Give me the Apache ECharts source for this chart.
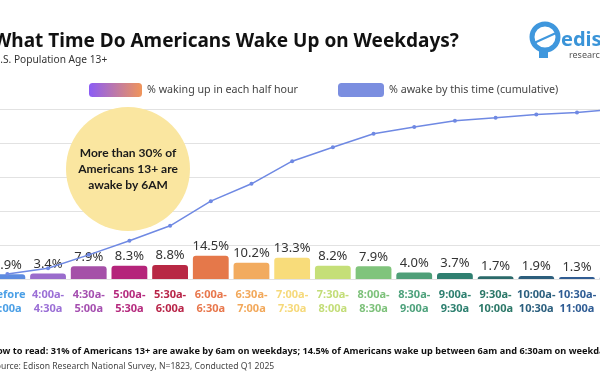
<!DOCTYPE html>
<html><head><meta charset="utf-8">
<script src="https://cdn.jsdelivr.net/npm/echarts@6/dist/echarts.min.js"></script>
<style>html,body{margin:0;padding:0;background:#fff}#c{width:600px;height:372px}</style>
</head><body><div id="c"></div>
<script>
const categories = ['Before\n4:00a','4:00a-\n4:30a','4:30a-\n5:00a','5:00a-\n5:30a','5:30a-\n6:00a','6:00a-\n6:30a','6:30a-\n7:00a','7:00a-\n7:30a','7:30a-\n8:00a','8:00a-\n8:30a','8:30a-\n9:00a','9:00a-\n9:30a','9:30a-\n10:00a','10:00a-\n10:30a','10:30a-\n11:00a','After\n11:00a'];
const halfHourPct = [2.9,3.4,7.9,8.3,8.8,14.5,10.2,13.3,8.2,7.9,4.0,3.7,1.7,1.9,1.3,2.0];
const cumulativePct = [2.9,6.3,14.2,22.5,31.3,45.8,56.0,69.3,77.5,85.4,89.4,93.1,94.8,96.7,98.0,100];
const barColors = ['#5d8be0','#9a6ccc','#a550a8','#b5247a','#b82844','#e5784a','#f2ab5f','#f8dc7a','#c5df78','#80c47c','#4f9f78','#2f7f70','#2b6a6a','#2c5e7c','#305c92','#33589a'];
const labelColors = ['#4a9fe6','#9b6fd6','#a54fb0','#b52a7e','#b82448','#e8774c','#f2a85a','#f6d97a','#c3dd78','#7dc17a','#4ea27c','#2e8070','#2c7868','#2b5f7e','#2f5c94','#2f5c94'];
const yTicks = [0,20,40,60,80,100];

const chart = echarts.init(document.getElementById('c'), null, {renderer:'canvas'});
const F = 'Noto Sans';
chart.setOption({
  backgroundColor:'#fff',
  animation:false,
  title:[
    {text:'What Time Do Americans Wake Up on Weekdays?', left:-12, top:27, textStyle:{fontFamily:F, fontWeight:'bold', fontSize:19, color:'#111'}},
    {text:'U.S. Population Age 13+', left:-12, top:50, textStyle:{fontFamily:F, fontWeight:'normal', fontSize:10.2, color:'#333'}},
    {text:'How to read: 31% of Americans 13+ are awake by 6am on weekdays; 14.5% of Americans wake up between 6am and 6:30am on weekdays.', left:-15, top:342, textStyle:{fontFamily:F, fontWeight:'bold', fontSize:9.2, color:'#111'}},
    {text:'Source: Edison Research National Survey, N=1823, Conducted Q1 2025', left:-14, top:357, textStyle:{fontFamily:F, fontWeight:'normal', fontSize:8.6, color:'#444'}}
  ],
  legend:[
    {left:84, top:78, itemWidth:53, itemHeight:14, icon:'roundRect',
     textStyle:{fontFamily:F, fontSize:10.7, color:'#444'},
     data:[{name:'% waking up in each half hour', itemStyle:{color:{type:'linear',x:0,y:0,x2:1,y2:0,colorStops:[{offset:0,color:'#8b5cf6'},{offset:1,color:'#f0955a'}]}}}]},
    {left:333, top:78, itemWidth:46, itemHeight:14, icon:'roundRect',
     textStyle:{fontFamily:F, fontSize:10.7, color:'#444'},
     data:[{name:'% awake by this time (cumulative)', itemStyle:{color:'#7b8ee0'}}]}
  ],
  grid:{left:-13, width:651, top:109, height:170, containLabel:false, outerBoundsMode:'none'},
  xAxis:{
    type:'category', data:categories.map((c,i)=>({value:c, textStyle:{color:labelColors[i]}})),
    axisLine:{show:false}, axisTick:{show:false},
    axisLabel:{interval:0, fontFamily:F, fontWeight:'bold', fontSize:11, lineHeight:14, margin:9, hideOverlap:false}
  },
  yAxis:[
    {type:'value', min:0, max:100, interval:20, axisLabel:{show:false}, axisLine:{show:false}, axisTick:{show:false}, splitLine:{lineStyle:{color:'#e2e2e2', width:1}}},
    {type:'value', min:0, max:106, axisLabel:{show:false}, axisLine:{show:false}, axisTick:{show:false}, splitLine:{show:false}}
  ],
  series:[
    {name:'% waking up in each half hour', type:'bar', yAxisIndex:1, barCategoryGap:'12%',
     data:halfHourPct.map((v,i)=>({value:v, itemStyle:{color:barColors[i]}})),
     itemStyle:{borderRadius:[3,3,0,0]},
     label:{show:true, position:'top', distance:3, fontFamily:F, fontSize:13, color:'#333', formatter:p=>p.value.toFixed(1)+'%'}},
    {name:'% awake by this time (cumulative)', type:'line', yAxisIndex:0, data:cumulativePct,
     color:'#6f89e3', lineStyle:{width:1.5, color:'#6f89e3'}, symbol:'circle', symbolSize:4, itemStyle:{color:'#6f89e3'}, z:3}
  ],
  graphic:[
    {type:'circle', shape:{cx:128, cy:169, r:62}, style:{fill:'#fae6a0'}, z:5},
    {type:'text', x:128, y:169, z:6, style:{text:'More than 30% of\nAmericans 13+ are\nawake by 6AM', fill:'#1a1a1a', font:'bold 12px "Lato"', lineHeight:16, align:'center', verticalAlign:'middle'}},
    {type:'circle', shape:{cx:545, cy:37, r:13}, style:{fill:'none', stroke:'#3f97dd', lineWidth:5}, z:5},
    {type:'line', shape:{x1:534, y1:43, x2:556, y2:33}, style:{stroke:'#3f97dd', lineWidth:2}, z:5},
    {type:'rect', shape:{x:539, y:51, width:9, height:7}, style:{fill:'#3f97dd'}, z:5},
    {type:'text', x:561, y:40, z:6, style:{text:'edison', fill:'#3a94d8', font:'bold 20px "Noto Sans"', verticalAlign:'middle'}},
    {type:'text', x:569, y:55, z:6, style:{text:'research', fill:'#555', font:'9px "Noto Sans"', verticalAlign:'middle'}}
  ]
});
</script></body></html>
